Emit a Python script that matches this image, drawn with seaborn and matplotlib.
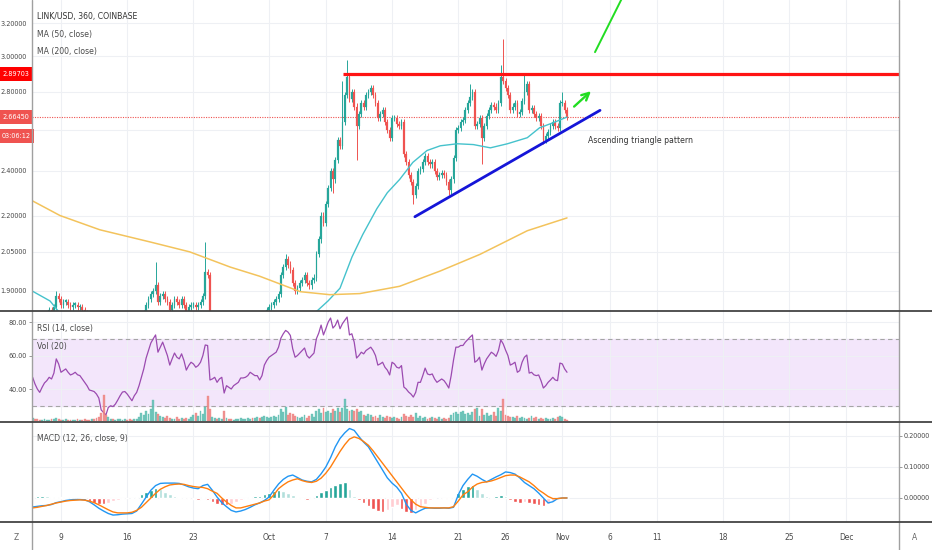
import numpy as np
import pandas as pd
import seaborn as sns
import matplotlib.pyplot as plt
import matplotlib.transforms as mtransforms
from matplotlib.lines import Line2D
from matplotlib.ticker import NullLocator

candle_start = "2019-09-06 00:00"
closes = [
    1.80, 1.79, 1.78, 1.77, 1.79, 1.80, 1.81, 1.83, 1.82, 1.84,
    1.88, 1.87, 1.85, 1.86, 1.86, 1.85, 1.84, 1.85, 1.85, 1.84,
    1.84, 1.83, 1.82, 1.81, 1.79, 1.79, 1.78, 1.77, 1.75, 1.71,
    1.70, 1.69, 1.71, 1.72, 1.71, 1.72, 1.73, 1.75, 1.76, 1.76,
    1.75, 1.74, 1.73, 1.75, 1.76, 1.78, 1.80, 1.82, 1.85, 1.87,
    1.89, 1.90, 1.92, 1.86, 1.88, 1.89, 1.87, 1.86, 1.83, 1.85,
    1.87, 1.86, 1.85, 1.87, 1.85, 1.82, 1.84, 1.85, 1.85, 1.84,
    1.85, 1.86, 1.88, 1.97, 1.96, 1.80, 1.81, 1.81, 1.78, 1.79,
    1.80, 1.72, 1.75, 1.74, 1.73, 1.74, 1.75, 1.75, 1.77, 1.77,
    1.77, 1.78, 1.79, 1.78, 1.78, 1.78, 1.76, 1.78, 1.81, 1.83,
    1.84, 1.85, 1.86, 1.87, 1.89, 1.96, 1.99, 2.02, 2.00, 1.98,
    1.93, 1.90, 1.91, 1.93, 1.94, 1.96, 1.93, 1.92, 1.94, 1.95,
    2.04, 2.10, 2.20, 2.17, 2.25, 2.32, 2.40, 2.36, 2.45, 2.55,
    2.52, 2.64, 2.78, 2.88, 2.76, 2.80, 2.72, 2.62, 2.68, 2.74,
    2.72, 2.78, 2.80, 2.82, 2.78, 2.74, 2.66, 2.68, 2.70, 2.64,
    2.60, 2.56, 2.66, 2.66, 2.63, 2.62, 2.64, 2.48, 2.44, 2.38,
    2.35, 2.29, 2.33, 2.40, 2.41, 2.44, 2.47, 2.44, 2.43, 2.44,
    2.40, 2.37, 2.38, 2.39, 2.38, 2.35, 2.31, 2.36, 2.46, 2.60,
    2.61, 2.64, 2.65, 2.70, 2.74, 2.77, 2.80, 2.62, 2.63, 2.66,
    2.56, 2.62, 2.67, 2.70, 2.73, 2.72, 2.70, 2.74, 2.88, 2.86,
    2.82, 2.78, 2.70, 2.72, 2.74, 2.68, 2.69, 2.75, 2.80, 2.84,
    2.70, 2.71, 2.68, 2.66, 2.67, 2.62, 2.55, 2.57, 2.59, 2.62,
    2.64, 2.62, 2.61, 2.74, 2.74, 2.70, 2.6645,
]
# pavios grandes (indice do candle -> preco)
spike_highs = {10: 1.90, 52: 2.01, 73: 2.09, 107: 2.04, 131: 2.86, 133: 2.98,
               185: 2.84, 198: 2.95, 199: 3.10, 208: 2.89, 224: 2.80}
spike_lows = {127: 2.30, 137: 2.45, 161: 2.25, 176: 2.29, 190: 2.43, 216: 2.53}

volumes = [
    3, 2, 2, 1, 1, 2, 1, 1, 2, 2,
    3, 2, 1, 1, 2, 1, 1, 1, 1, 2,
    1, 1, 2, 1, 1, 2, 2, 3, 4, 8,
    26, 6, 4, 2, 2, 1, 2, 2, 1, 2,
    1, 2, 1, 2, 2, 4, 8, 6, 10, 7,
    12, 21, 9, 7, 5, 4, 3, 5, 3, 2,
    2, 4, 2, 3, 2, 3, 2, 4, 6, 8,
    5, 10, 7, 14, 25, 12, 4, 3, 2, 3,
    2, 10, 3, 2, 2, 1, 2, 2, 3, 2,
    2, 3, 2, 3, 3, 4, 3, 4, 5, 4,
    3, 4, 5, 4, 6, 12, 9, 14, 6, 8,
    7, 5, 4, 3, 4, 6, 3, 5, 7, 4,
    10, 12, 8, 13, 9, 10, 8, 12, 10, 13,
    9, 13, 22, 12, 10, 11, 10, 12, 9, 10,
    6, 5, 7, 6, 4, 5, 3, 6, 4, 3,
    5, 4, 3, 4, 3, 2, 4, 7, 5, 4,
    6, 4, 8, 3, 5, 3, 4, 2, 3, 4,
    3, 2, 4, 2, 3, 2, 3, 6, 8, 9,
    7, 9, 10, 7, 8, 6, 9, 12, 13, 5,
    12, 6, 8, 5, 6, 9, 5, 13, 10, 22,
    6, 5, 4, 4, 3, 5, 3, 4, 3, 2,
    3, 5, 3, 4, 2, 3, 2, 3, 2, 2,
    3, 2, 4, 5, 4, 2, 1,
]

rsi_vals = [
    47, 43, 40, 38, 41, 43.6, 45, 47, 46, 49.5,
    58, 55, 50, 51, 52, 50, 48.4, 49, 50, 48.5,
    48, 46, 44, 42, 39.4, 39, 38.5, 37, 34.6, 27.5,
    26, 24.5, 29, 30, 29.5, 31, 33.4, 36, 38.2, 38.5,
    37, 35, 33, 36, 38, 42, 47, 52, 58.5, 63,
    67.5, 70, 72.3, 62, 65, 68, 64, 60, 54.3, 58,
    61.5, 59, 58, 61, 57, 51.3, 54, 56, 55, 53,
    54, 56, 60, 66.3, 66, 45.4, 46, 47, 44, 46,
    47, 37.6, 42, 41, 40, 42, 43, 44, 46.6, 46.6,
    47, 48, 50, 49, 48, 48, 45.4, 48, 54.3, 57,
    59, 60, 61, 62, 65, 70.4, 73, 75, 74, 72,
    64, 59, 60, 61.5, 63, 64.5, 60, 58.5, 60, 61.5,
    70, 73.4, 78.2, 72.3, 76, 80, 82.4, 76.4, 78, 81.2,
    76, 79, 81, 83, 72.3, 73, 68, 58.5, 60, 62,
    61, 63, 64, 65, 63, 60, 54.3, 55, 56, 53,
    51.3, 48.4, 56, 55, 53, 52.5, 54, 41.2, 40, 38.2,
    37, 35.2, 38, 44, 44, 48, 52.5, 49, 48.5, 49,
    46, 44, 45, 46, 45, 43, 40.6, 48, 57.3, 65,
    65, 66, 66, 68, 69.5, 71, 72.3, 56, 57, 59,
    51.3, 55, 58, 60, 62, 61, 59.5, 63, 69.3, 67,
    63.3, 60, 54.3, 55, 56, 50, 51, 56, 59, 60.3,
    49.5, 50, 48.5, 48, 48.4, 45, 40.6, 42, 44, 45.4,
    47, 45.4, 45, 55.5, 55, 52, 50,
]

# MACD (12, 26, close, 9), lido a cada 12h
macd_start = "2019-09-06 00:00"
macd_line = [
    -0.029, -0.027, -0.025, -0.024, -0.021, -0.015, -0.012, -0.008, -0.006, -0.005,
    -0.005, -0.006, -0.012, -0.022, -0.033, -0.042, -0.050, -0.055, -0.054, -0.052,
    -0.051, -0.050, -0.042, -0.020, 0.003, 0.025, 0.040, 0.047, 0.048, 0.048,
    0.048, 0.047, 0.042, 0.036, 0.032, 0.030, 0.040, 0.044, 0.025, 0.003,
    -0.015, -0.028, -0.040, -0.045, -0.042, -0.037, -0.030, -0.022, -0.016, -0.008,
    0.003, 0.025, 0.045, 0.060, 0.070, 0.074, 0.066, 0.058, 0.054, 0.052,
    0.060, 0.078, 0.100, 0.130, 0.165, 0.192, 0.210, 0.224, 0.218, 0.198,
    0.180, 0.165, 0.140, 0.115, 0.090, 0.065, 0.048, 0.035, 0.015, -0.020,
    -0.040, -0.048, -0.040, -0.033, -0.032, -0.033, -0.033, -0.032, -0.033, -0.030,
    0.010, 0.040, 0.060, 0.077, 0.070, 0.060, 0.052, 0.060, 0.068, 0.075,
    0.084, 0.082, 0.077, 0.065, 0.050, 0.040, 0.030, 0.016, 0.000, -0.016,
    -0.012, -0.002, 0.000, 0.000,
]
signal_line = [
    -0.032, -0.030, -0.027, -0.024, -0.020, -0.016, -0.013, -0.010, -0.008, -0.007,
    -0.006, -0.007, -0.010, -0.015, -0.022, -0.030, -0.038, -0.045, -0.048, -0.048,
    -0.048, -0.046, -0.040, -0.030, -0.015, 0.000, 0.015, 0.028, 0.036, 0.042,
    0.044, 0.045, 0.044, 0.040, 0.037, 0.035, 0.034, 0.030, 0.022, 0.015,
    0.000, -0.013, -0.024, -0.032, -0.032, -0.028, -0.024, -0.020, -0.016, -0.010,
    -0.006, 0.010, 0.030, 0.042, 0.052, 0.058, 0.062, 0.056, 0.052, 0.050,
    0.054, 0.064, 0.080, 0.100, 0.125, 0.150, 0.172, 0.190, 0.197, 0.192,
    0.182, 0.170, 0.152, 0.132, 0.112, 0.092, 0.072, 0.052, 0.032, 0.012,
    -0.006, -0.020, -0.028, -0.030, -0.032, -0.032, -0.032, -0.032, -0.032, -0.028,
    -0.010, 0.010, 0.020, 0.035, 0.045, 0.050, 0.052, 0.055, 0.060, 0.066,
    0.072, 0.074, 0.074, 0.068, 0.060, 0.052, 0.040, 0.026, 0.016, 0.005,
    -0.002, -0.002, 0.000, 0.000,
]
macd_hist = [
    0.004, 0.005, 0.006, 0.005, 0.004, 0.004, 0.003, 0.002, 0.001, 0.000,
    -0.002, -0.006, -0.012, -0.017, -0.019, -0.019, -0.016, -0.011, -0.007, -0.003,
    0.000, 0.001, 0.004, 0.012, 0.020, 0.027, 0.032, 0.028, 0.020, 0.013,
    0.007, 0.003, 0.000, -0.003, -0.004, -0.005, 0.003, -0.006, -0.014, -0.020,
    -0.023, -0.024, -0.018, -0.012, -0.007, -0.003, 0.002, 0.005, 0.008, 0.012,
    0.016, 0.021, 0.025, 0.022, 0.016, 0.010, 0.004, -0.004, -0.006, 0.004,
    0.010, 0.018, 0.026, 0.034, 0.042, 0.048, 0.050, 0.030, 0.008, -0.008,
    -0.016, -0.025, -0.035, -0.042, -0.045, -0.040, -0.030, -0.022, -0.035, -0.045,
    -0.047, -0.040, -0.028, -0.018, -0.008, -0.002, 0.000, -0.002, -0.003, 0.000,
    0.015, 0.030, 0.040, 0.042, 0.028, 0.015, 0.005, 0.004, 0.006, 0.010,
    0.006, -0.008, -0.014, -0.016, -0.012, -0.016, -0.018, -0.024, -0.026, -0.018,
    -0.010, -0.004, -0.001, 0.000,
]

# medias moveis (dias desde 1/set)
ma50_day = [4.93, 6.84, 7.7, 10, 15, 20, 25, 30, 33, 35.07, 36.23, 37.5, 38.77,
            39.9, 41.4, 42.5, 43.8, 45.2, 46.7, 48.1, 49.9, 51.6, 53.4, 55.2,
            57.3, 58.6, 60.0, 61.5]
ma50_val = [1.90, 1.863, 1.827, 1.79, 1.77, 1.76, 1.76, 1.76, 1.79, 1.827, 1.863,
            1.91, 2.03, 2.12, 2.23, 2.30, 2.36, 2.44, 2.497, 2.52, 2.53, 2.526,
            2.51, 2.53, 2.56, 2.61, 2.635, 2.665]
ma200_day = [4.93, 7.9, 12.1, 17.4, 21.6, 25.9, 29.0, 33.3, 36.4, 39.6, 43.8,
             48.1, 52.3, 57.3, 61.5]
ma200_val = [2.265, 2.20, 2.14, 2.09, 2.05, 1.99, 1.955, 1.897, 1.886, 1.89,
             1.917, 1.975, 2.04, 2.136, 2.19]

# desenhos do autor
resistance = 2.89703
resistance_from = "2019-10-08 19:00"
support_t = ["2019-10-16 10:00", "2019-11-04 23:45"]
support_p = [2.195, 2.70]
arrow_t = ["2019-11-02 00:45", "2019-11-04 06:00"]
arrow_p = [2.71, 2.813]
target_t = ["2019-11-04 11:00", "2019-11-07 18:00"]
target_p = [3.024, 3.413]
note_t, note_p = "2019-11-03 17:00", 2.546
last_price = 2.6645

tick_dates = ["2019-09-09", "2019-09-16", "2019-09-23", "2019-10-01", "2019-10-07",
              "2019-10-14", "2019-10-21", "2019-10-26", "2019-11-01", "2019-11-06",
              "2019-11-11", "2019-11-18", "2019-11-25", "2019-12-01"]
tick_labels = ["9", "16", "23", "Oct", "7", "14", "21", "26", "Nov", "6", "11",
               "18", "25", "Dec"]
price_ticks = [1.9, 2.05, 2.2, 2.4, 2.6, 2.8, 3.0, 3.2]

# ---------------------------------------------------------------
sns.set_theme(style="white")
plt.rcParams['font.family'] = ['DejaVu Sans']
plt.rcParams['font.stretch'] = 'condensed'

UP, DOWN = '#26a69a', '#ef5350'
TXT = '#4a4a4a'
GRID = '#eef0f4'
FS_TICK = 5.2
FS_LEG = 6.2

base = pd.Timestamp("2019-09-01")
dates = pd.date_range(candle_start, periods=len(closes), freq="6h")
c = np.array(closes)
o = np.r_[c[0], c[:-1]]
hi = np.maximum(o, c) * 1.006
lo = np.minimum(o, c) / 1.006
for k, v in spike_highs.items():
    hi[k] = v
for k, v in spike_lows.items():
    lo[k] = v
cols = np.where(c >= o, UP, DOWN)

W, H = 932, 550
fig = plt.figure(figsize=(W / 100, H / 100), dpi=100)


def box(x0, y0, x1, y1):
    return [x0 / W, 1 - y1 / H, (x1 - x0) / W, (y1 - y0) / H]


ax = fig.add_axes(box(32, 0, 899, 311))
ax_rsi = fig.add_axes(box(32, 311, 899, 421), sharex=ax)
ax_macd = fig.add_axes(box(32, 422, 899, 522), sharex=ax)

x_left = base + pd.Timedelta(days=4.934)
x_right = base + pd.Timedelta(days=96.6)

# --- painel de preco
ax.set_yscale('log')
ax.vlines(dates, lo, hi, colors=cols, lw=0.7, zorder=3)
body = np.maximum(np.abs(c - o), 0.005)
ax.bar(dates, body, bottom=np.minimum(o, c), width=0.18, color=cols,
       edgecolor=cols, linewidth=0.15, zorder=3)
sns.lineplot(x=base + pd.to_timedelta(ma50_day, unit='D'), y=ma50_val, ax=ax,
             color='#45c2cc', lw=1.0, zorder=4)
sns.lineplot(x=base + pd.to_timedelta(ma200_day, unit='D'), y=ma200_val, ax=ax,
             color='#f3c35c', lw=1.1, zorder=4)

ax.plot([pd.Timestamp(resistance_from), x_right], [resistance, resistance],
        color='#ff1414', lw=2.3, zorder=5, solid_capstyle='butt')
ax.plot(pd.to_datetime(support_t), support_p, color='#1515d8', lw=2.0, zorder=5)
ax.annotate('', xy=(pd.Timestamp(arrow_t[1]), arrow_p[1]),
            xytext=(pd.Timestamp(arrow_t[0]), arrow_p[0]),
            arrowprops=dict(arrowstyle='->', color='#22dd22', lw=1.7, mutation_scale=13),
            zorder=5)
ax.plot(pd.to_datetime(target_t), target_p, color='#22dd22', lw=1.4, zorder=5)
ax.text(pd.Timestamp(note_t), note_p, 'Ascending triangle pattern', fontsize=FS_LEG,
        color='#333333', va='center', ha='left')
ax.axhline(last_price, color='#ef5350', lw=0.8, ls=(0, (1, 1.2)), zorder=2)

ax.set_ylim(1.827, 3.347)
ax.set_yticks(price_ticks)
ax.set_yticklabels(['' if t == 2.6 else f'{t:.5f}' for t in price_ticks])
ax.yaxis.set_minor_locator(NullLocator())
ax.set_xlim(x_left, x_right)
ax.set_xlabel('')
ax.set_ylabel('')

lab_tf = mtransforms.blended_transform_factory(ax.transAxes, ax.transData)
lab_kw = dict(transform=lab_tf, ha='center', va='center', color='white',
              fontsize=FS_TICK, clip_on=False, zorder=10)
ax.text(-16 / 867, resistance, '2.89703',
        bbox=dict(boxstyle='square,pad=0.55', fc='#ff0000', ec='none'), **lab_kw)
ax.text(-16 / 867, last_price, '2.66450',
        bbox=dict(boxstyle='square,pad=0.55', fc='#ef5350', ec='none'), **lab_kw)
ax.annotate('03:06:12', xy=(-16 / 867, last_price), xycoords=lab_tf, xytext=(0, -13.5),
            textcoords='offset points', ha='center', va='center', color='white',
            fontsize=FS_TICK, annotation_clip=False, zorder=10,
            bbox=dict(boxstyle='square,pad=0.55', fc='#ef5350', ec='none'))

# --- RSI + volume
ax_rsi.axhspan(30, 70, color='#f3e6fb', zorder=0)
for lvl in (70, 30):
    ax_rsi.axhline(lvl, color='#a5a5a5', lw=0.8, ls=(0, (4, 3)), zorder=1)
sns.lineplot(x=dates, y=rsi_vals, ax=ax_rsi, color='#9b4bb0', lw=0.9, zorder=4)
ax_rsi.set_ylim(20.9, 86.6)
ax_rsi.set_yticks([40, 60, 80])
ax_rsi.set_yticklabels(['40.00', '60.00', '80.00'])
ax_rsi.yaxis.tick_right()
ax_rsi.set_xlabel('')
ax_rsi.set_ylabel('')

ax_vol = ax_rsi.twinx()
vol_cols = np.where(c >= o, '#5dbdb1', '#ee8280')
ax_vol.bar(dates, volumes, width=0.2, color=vol_cols, edgecolor=vol_cols,
           linewidth=0.3, alpha=0.85, zorder=2)
ax_vol.set_ylim(0, 110)
ax_vol.set_yticks([])
ax_vol.set_xlim(x_left, x_right)
for s in ax_vol.spines.values():
    s.set_visible(False)

# --- MACD
mdates_ = pd.date_range(macd_start, periods=len(macd_line), freq="12h")
h = np.array(macd_hist)
prev = np.r_[h[0], h[:-1]]
hcols = np.where(h >= 0, np.where(h >= prev, '#26a69a', '#b2dfdb'),
                 np.where(h <= prev, '#ef5350', '#ffcdd2'))
ax_macd.bar(mdates_, h, width=0.38, color=hcols, zorder=2)
sns.lineplot(x=mdates_, y=macd_line, ax=ax_macd, color='#2196f3', lw=1.0, zorder=4)
sns.lineplot(x=mdates_, y=signal_line, ax=ax_macd, color='#ff7f0e', lw=1.0, zorder=4)
ax_macd.set_ylim(-0.0774, 0.245)
ax_macd.set_yticks([0.0, 0.1, 0.2])
ax_macd.set_yticklabels(['0.00000', '0.10000', '0.20000'])
ax_macd.yaxis.tick_right()
ax_macd.set_xlabel('')
ax_macd.set_ylabel('')

ax_macd.set_xticks(pd.to_datetime(tick_dates))
ax_macd.set_xticklabels(tick_labels)
ax_macd.set_xlim(x_left, x_right)

for a in (ax, ax_rsi, ax_macd):
    a.set_facecolor('none')
    a.grid(True, color=GRID, lw=0.8, zorder=0)
    a.set_axisbelow(True)
    for s in a.spines.values():
        s.set_visible(False)
    a.tick_params(axis='y', which='major', direction='out', length=2.5, width=0.6,
                  color='#888888', labelsize=FS_TICK, labelcolor=TXT, pad=1)
    a.tick_params(axis='x', length=0)
for a in (ax, ax_rsi):
    a.tick_params(axis='x', labelbottom=False)
ax_macd.tick_params(axis='x', labelsize=6.0, labelcolor=TXT, pad=8)

# legendas no canto
fig.text(37 / W, 1 - 17 / H, 'LINK/USD, 360, COINBASE', fontsize=FS_LEG, color='#333333', va='center')
fig.text(37 / W, 1 - 35 / H, 'MA (50, close)', fontsize=FS_LEG, color=TXT, va='center')
fig.text(37 / W, 1 - 52 / H, 'MA (200, close)', fontsize=FS_LEG, color=TXT, va='center')
fig.text(37 / W, 1 - 329 / H, 'RSI (14, close)', fontsize=FS_LEG, color=TXT, va='center')
fig.text(37 / W, 1 - 346 / H, 'Vol (20)', fontsize=FS_LEG, color=TXT, va='center')
fig.text(37 / W, 1 - 439 / H, 'MACD (12, 26, close, 9)', fontsize=FS_LEG, color=TXT, va='center')
fig.text(16 / W, 1 - 537 / H, 'Z', fontsize=6.0, color='#666666', ha='center', va='center')
fig.text(915 / W, 1 - 537 / H, 'A', fontsize=6.0, color='#666666', ha='center', va='center')

# bordas e separadores
for xp in (32, 899):
    fig.add_artist(Line2D([xp / W, xp / W], [0, 1], transform=fig.transFigure,
                          color='#a0a0a0', lw=1.0))
for yp in (311, 421.5, 522):
    fig.add_artist(Line2D([0, 1], [1 - yp / H, 1 - yp / H], transform=fig.transFigure,
                          color='#444444', lw=1.3))

plt.savefig("out.png", dpi=100)
